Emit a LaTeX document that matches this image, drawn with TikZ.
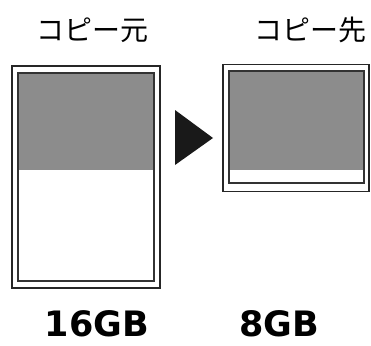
\documentclass[tikz,border=0pt]{standalone}
\usepackage{fontspec}
\newfontfamily\jp{Noto Sans CJK JP}
\newfontfamily\lbl{DejaVu Sans}
\begin{document}
\begin{tikzpicture}[x=1pt,y=-1pt,
  frame/.style={draw=black!85,line width=1.8pt},
  inner/.style={draw=black!80,line width=1.8pt},
  fillgray/.style={fill=black!45},
  jplabel/.style={font=\jp\fontsize{28}{30}\selectfont,inner sep=0pt},
  size/.style={font=\lbl\bfseries\fontsize{35}{38}\selectfont,inner sep=0pt}]
\useasboundingbox (0,0) rectangle (371,345);
% labels
\node[jplabel] (srcl) at (92,30) {コピー元};
\node[jplabel] (dstl) at (310,30) {コピー先};
% left card
\fill[fillgray] (18,73) rectangle (154,170);
\node[frame,minimum width=148pt,minimum height=222pt,inner sep=0pt] (src) at (86,177) {};
\draw[inner] (18,73) rectangle (154,281);
% right card
\fill[fillgray] (229,71) rectangle (364,170);
\node[frame,minimum width=146pt,minimum height=127pt,inner sep=0pt] (dst) at (296,128) {};
\draw[inner] (229,71) rectangle (364,183);
% arrow
\fill[black!90] (175,110) -- (213,138) -- (175,165) -- cycle;
% sizes
\node[size,anchor=base] (s16) at (97,336) {16GB};
\node[size,anchor=base] (s8) at (279,336) {8GB};
\end{tikzpicture}
\end{document}
